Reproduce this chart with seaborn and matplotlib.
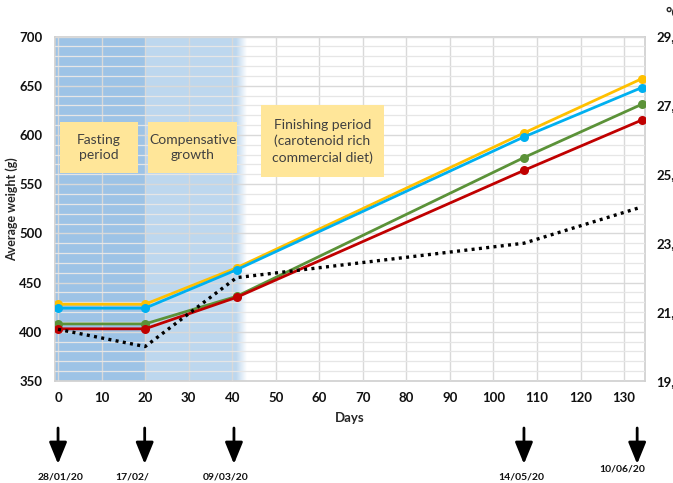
"""
Average fish weight over the trial with water temperature on a second axis.
"""
import numpy as np
import pandas as pd
import seaborn as sns
import matplotlib.pyplot as plt
from matplotlib.patches import Rectangle

# data
days = [0, 20, 41, 107, 134]
weight_yellow = [428, 428, 465, 602, 657]
weight_blue = [424, 424, 463, 598, 648]
weight_green = [408, 408, 436, 577, 631]
weight_red = [403, 403, 435, 564, 615]
temperature = [20.5, 20.0, 22.0, 23.0, 24.05]

date_labels = ["28/01/20", "17/02/", "09/03/20", "14/05/20", "10/06/20"]
temp_ticks = [19, 21, 23, 25, 27, 29]

series_colors = {"T1": "#FFC000", "T2": "#00B0F0", "T3": "#5B9238", "T4": "#C00000"}

sns.set_theme(style="white")
plt.rcParams["font.family"] = ["Lato", "DejaVu Sans"]

df = pd.DataFrame({
    "day": days * 4,
    "weight": weight_yellow + weight_blue + weight_green + weight_red,
    "group": ["T1"] * 5 + ["T2"] * 5 + ["T3"] * 5 + ["T4"] * 5,
})

fig = plt.figure(figsize=(6.73, 4.83), dpi=100)
ax = fig.add_axes([0.0817, 0.2112, 0.8767, 0.7132])

# background shading for the fasting / compensative phases
ax.axvspan(-1, 20, color="#9DC3E6", zorder=0, lw=0)
ax.axvspan(20, 40.8, color="#BDD7EE", zorder=0, lw=0)
grad = np.zeros((2, 60, 4))
grad[..., 0], grad[..., 1], grad[..., 2] = 0xBD / 255, 0xD7 / 255, 0xEE / 255
grad[..., 3] = np.linspace(1, 0, 60)
ax.imshow(grad, extent=[40.8, 43.2, 350, 700], aspect="auto", zorder=0.5,
          interpolation="bilinear")

# grid
ax.set_xticks(range(0, 140, 10))
ax.set_yticks(range(350, 701, 50))
ax.set_yticks(range(350, 701, 10), minor=True)
ax.grid(True, which="major", color="#D9D9D9", lw=1, zorder=1)
ax.grid(True, which="minor", axis="y", color="#E6E6E6", lw=0.9, zorder=1)
ax.set_axisbelow(False)

sns.lineplot(data=df, x="day", y="weight", hue="group", palette=series_colors,
             marker="o", markersize=6.5, markeredgewidth=0, lw=2, legend=False,
             ax=ax, zorder=5)

ax.set_xlim(-0.7, 134.8)
ax.set_ylim(350, 700)
for s in ax.spines.values():
    s.set_color("#D0D0D0")
ax.tick_params(axis="both", which="both", length=0, labelsize=9.5, colors="#111111")
ax.tick_params(axis="y", pad=9)
ax.tick_params(axis="x", pad=8)
for lab in ax.get_xticklabels() + ax.get_yticklabels():
    lab.set_fontweight("bold")
ax.set_xlabel("Days", fontsize=9.5, fontweight="bold", labelpad=6)
ax.set_ylabel("Average weight (g)", fontsize=9, fontweight="bold")
ax.yaxis.set_label_coords(-0.062, 0.5)

# temperature axis
ax2 = ax.twinx()
sns.lineplot(x=days, y=temperature, color="black", lw=2.4, ax=ax2, zorder=4)
ax2.lines[0].set_dashes([0.9, 1.3])
ax2.set_ylim(19, 29)
ax2.set_yticks(temp_ticks)
ax2.set_yticklabels([f"{t},0" for t in temp_ticks], fontweight="bold")
ax2.tick_params(axis="y", length=0, labelsize=9.5, pad=8, colors="#111111")
for s in ax2.spines.values():
    s.set_visible(False)
ax2.set_ylabel("")
fig.text(666 / 673, 1 - 14 / 483, "°C", fontsize=11, fontweight="bold",
         ha="left", va="center")

# phase labels
boxes = [
    (0.5, 18.4, 561, 613, "Fasting\nperiod"),
    (20.7, 41.1, 561, 613, "Compensative\ngrowth"),
    (46.6, 74.9, 557, 630, "Finishing period\n(carotenoid rich\ncommercial diet)"),
]
for x0, x1, y0, y1, txt in boxes:
    ax.add_patch(Rectangle((x0, y0), x1 - x0, y1 - y0, facecolor="#FFE699",
                           edgecolor="none", zorder=3))
    ax.text((x0 + x1) / 2, (y0 + y1) / 2, txt, ha="center", va="center",
            fontsize=10, color="#404040", linespacing=1.35, zorder=3.5)

# sampling date arrows under the axis
label_pos = [(61, 477, "center"), (115, 477, "left"), (226, 477, "center"),
             (521, 477, "center"), (622, 469, "center")]
arrow_x = [0, 19.9, 40.4, 107, 133]
for d, (lx, ly, ha), lab in zip(arrow_x, label_pos, date_labels):
    ax.annotate("", xy=(d, 1 - 464 / 483), xytext=(d, 1 - 428 / 483),
                xycoords=("data", "figure fraction"),
                textcoords=("data", "figure fraction"),
                arrowprops=dict(arrowstyle="-|>,head_length=1.1,head_width=0.45",
                                mutation_scale=12, lw=2.0, color="black",
                                shrinkA=0, shrinkB=0),
                annotation_clip=False)
    fig.text(lx / 673, 1 - ly / 483, lab, ha=ha, va="center", fontsize=7.5,
             fontweight="bold", color="#111111")

fig.savefig("out.png", dpi=100)
